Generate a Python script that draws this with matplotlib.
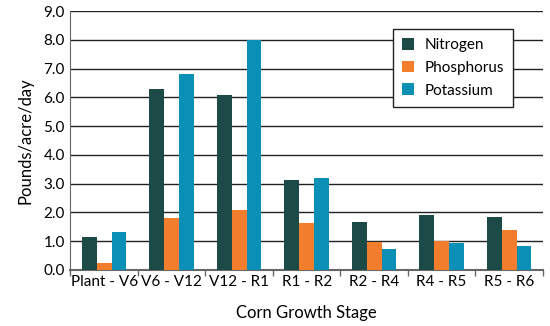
import matplotlib
matplotlib.use("Agg")
import matplotlib.pyplot as plt
import numpy as np

stages = ["Plant - V6", "V6 - V12", "V12 - R1", "R1 - R2", "R2 - R4", "R4 - R5", "R5 - R6"]
nitrogen = [1.15, 6.30, 6.07, 3.12, 1.67, 1.90, 1.83]
phosphorus = [0.25, 1.80, 2.10, 1.63, 0.98, 1.01, 1.38]
potassium = [1.32, 6.80, 8.00, 3.18, 0.73, 0.94, 0.82]

plt.rcParams['font.family'] = ['Lato', 'DejaVu Sans']

fig = plt.figure(figsize=(5.5, 3.26), dpi=100)
ax = fig.add_axes([0.128, 0.172, 0.859, 0.794])

x = np.arange(len(stages))
w = 0.22
cols = ["#1b4a47", "#f27d2c", "#0b8fb6"]
for i, (vals, c, lab) in enumerate(zip([nitrogen, phosphorus, potassium], cols,
                                       ["Nitrogen", "Phosphorus", "Potassium"])):
    ax.bar(x + (i - 1) * w, vals, w, color=c, label=lab, zorder=3)

ax.set_xlim(-0.5, len(stages) - 0.5)
ax.set_ylim(0, 9)
ax.set_yticks(np.arange(0, 9.1, 1.0))
ax.set_yticklabels([f"{v:.1f}" for v in np.arange(0, 9.1, 1.0)], fontsize=11)
ax.yaxis.grid(True, color="#222222", linewidth=1.0, zorder=0)
ax.tick_params(axis='y', length=0, pad=4)

ax.set_xticks(x)
ax.set_xticklabels(stages, fontsize=11)
ax.tick_params(axis='x', length=0, pad=4)
ax.set_xticks(np.arange(-0.5, len(stages), 1.0), minor=True)
ax.tick_params(axis='x', which='minor', length=4, width=1, color="#666666")

for s in ["top", "right"]:
    ax.spines[s].set_visible(False)
ax.spines["left"].set_color("#666666")
ax.spines["bottom"].set_color("#666666")
ax.spines["bottom"].set_linewidth(1.5)

ax.set_ylabel("Pounds/acre/day", fontsize=12, labelpad=7)
ax.set_xlabel("Corn Growth Stage", fontsize=12, labelpad=11)

leg = ax.legend(loc="upper left", bbox_to_anchor=(0.666, 0.96), fontsize=11,
                frameon=True, fancybox=False, edgecolor="#222222", framealpha=1,
                handlelength=0.8, handleheight=0.8, labelspacing=0.55, borderpad=0.6,
                handletextpad=0.7)
leg.get_frame().set_linewidth(1.0)

fig.savefig("out.png", dpi=100)
